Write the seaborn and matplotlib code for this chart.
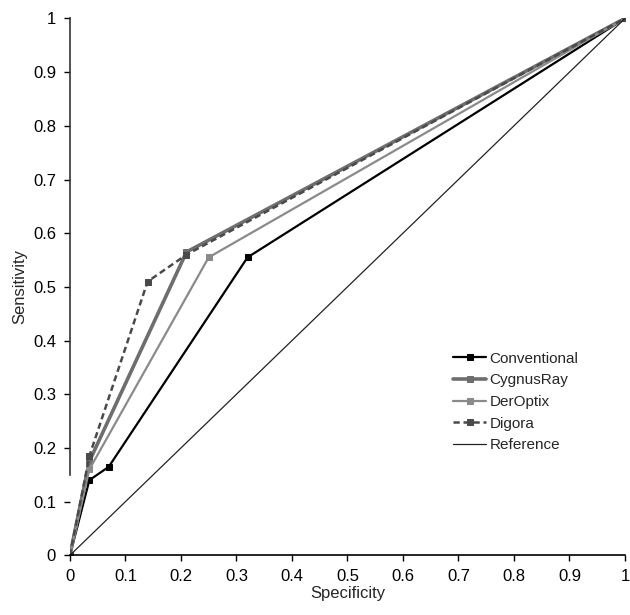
import pandas as pd
import matplotlib
matplotlib.use('Agg')
import matplotlib.pyplot as plt
import seaborn as sns

# Datos
conv_x = [0, 0.035, 0.07, 0.32, 1]
conv_y = [0, 0.14, 0.165, 0.555, 1]
cyg_x = [0, 0.035, 0.21, 1]
cyg_y = [0, 0.175, 0.565, 1]
der_x = [0, 0.035, 0.25, 1]
der_y = [0, 0.16, 0.555, 1]
dig_x = [0, 0.035, 0.14, 0.21, 1]
dig_y = [0, 0.185, 0.51, 0.56, 1]
ref_x = [0, 1]
ref_y = [0, 1]

sns.set_style('white')
plt.rcParams['font.family'] = ['Liberation Sans', 'DejaVu Sans']

fig = plt.figure(figsize=(6.3, 6.15), dpi=100)
ax = fig.add_axes([0.111, 0.097, 0.881, 0.873])

estilos = [
    ('Conventional', conv_x, conv_y, '#000000', '-', 1.6, 5),
    ('CygnusRay', cyg_x, cyg_y, '#6e6e6e', '-', 2.6, 5),
    ('DerOptix', der_x, der_y, '#8a8a8a', '-', 1.6, 4),
    ('Digora', dig_x, dig_y, '#4a4a4a', (0, (2.5, 1.5)), 1.8, 5),
]
for nombre, xs, ys, color, ls, lw, ms in estilos:
    sns.lineplot(x=xs, y=ys, ax=ax, color=color, linestyle=ls, linewidth=lw,
                 marker='s', markersize=ms, markeredgecolor=color,
                 label=nombre, sort=False, estimator=None)
sns.lineplot(x=ref_x, y=ref_y, ax=ax, color='#222222', linewidth=0.9,
             label='Reference', sort=False, estimator=None)

ax.set_xlim(0, 1)
ax.set_ylim(0, 1)
ticks = [i / 10 for i in range(11)]
etiquetas = ['0'] + ['%.1f' % t for t in ticks[1:-1]] + ['1']
ax.set_xticks(ticks)
ax.set_xticklabels(etiquetas)
ax.set_yticks(ticks)
ax.set_yticklabels(etiquetas)
ax.tick_params(axis='both', direction='out', length=4, width=1, labelsize=12,
               bottom=True, left=True, pad=6, colors='black')

for lado in ['top', 'right']:
    ax.spines[lado].set_visible(False)
for lado in ['left', 'bottom']:
    ax.spines[lado].set_color('black')
    ax.spines[lado].set_linewidth(1.2)
ax.spines['left'].set_bounds(0.15, 1)
ax.spines['left'].set_color('#333333')

ax.set_xlabel('Specificity', fontsize=12, labelpad=1)
ax.set_ylabel('Sensitivity', fontsize=12, labelpad=4)

ax.legend(loc='upper left', bbox_to_anchor=(0.665, 0.405), frameon=False,
          fontsize=11, handlelength=2.2, handletextpad=0.2, labelspacing=0.5)

plt.savefig('out.png', dpi=100)
